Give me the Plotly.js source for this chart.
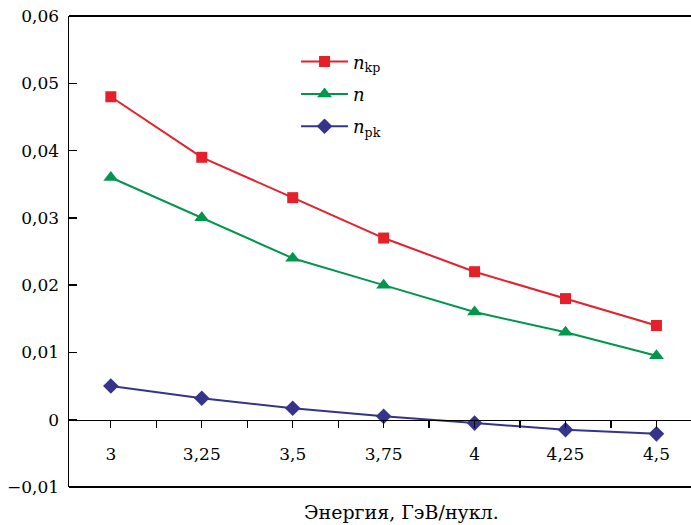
<!DOCTYPE html>
<html>
<head>
<meta charset="utf-8">
<script src="https://cdn.plot.ly/plotly-3.0.1.min.js"></script>
<style>html,body{margin:0;padding:0;background:#fff;}#chart{width:691px;height:525px;}</style>
</head>
<body>
<div id="chart"></div>
<script>
const categories = ["3", "3,25", "3,5", "3,75", "4", "4,25", "4,5"];
const nKp = [0.048, 0.039, 0.033, 0.027, 0.022, 0.018, 0.014];
const nMid = [0.036, 0.030, 0.024, 0.020, 0.016, 0.013, 0.0095];
const nPk = [0.005, 0.0032, 0.0017, 0.0005, -0.0005, -0.0015, -0.0021];
const seriesNames = ["<i>n</i><sub>kp</sub>", "<i>n</i>", "<i>n</i><sub>pk</sub>"];
const yTicks = [-0.01, 0, 0.01, 0.02, 0.03, 0.04, 0.05, 0.06];
const yTickText = ["\u22120,01", "0", "0,01", "0,02", "0,03", "0,04", "0,05", "0,06"];
const xTitle = "Энергия, ГэВ/нукл.";

const idx = categories.map((c, i) => i);
const minorVals = categories.map((c, i) => i + 0.5);

const FONT = "DejaVu Serif";
const traces = [
  {x: idx, y: nKp, name: seriesNames[0], mode: "lines+markers", legendgroup: "a",
   line: {color: "#E5202A", width: 2}, marker: {symbol: "square", size: 11, color: "#E5202A"}},
  {x: idx, y: nMid, name: seriesNames[1], mode: "lines+markers", legendgroup: "b",
   line: {color: "#00964B", width: 2}, marker: {symbol: "triangle-up", size: 13, color: "#00964B"}},
  {x: idx, y: nPk, name: seriesNames[2], mode: "lines+markers", legendgroup: "c",
   line: {color: "#35348C", width: 2}, marker: {symbol: "diamond", size: 12, color: "#35348C"}}
];

const layout = {
  width: 691, height: 525,
  margin: {l: 69, r: 0, t: 16, b: 38},
  paper_bgcolor: "#fff", plot_bgcolor: "#fff",
  font: {family: FONT, size: 18, color: "#000"},
  showlegend: true,
  legend: {x: 0.365, y: 0.942, xanchor: "left", yanchor: "top", bgcolor: "rgba(0,0,0,0)",
           font: {family: FONT, size: 18, color: "#000"}, traceorder: "grouped",
           tracegroupgap: 6, itemwidth: 47},
  xaxis: {
    range: [-0.46, 6.38], tickmode: "array", tickvals: idx, ticktext: categories,
    anchor: "free", position: 1/7, showline: true, linecolor: "#000", linewidth: 1.5,
    ticks: "outside", ticklen: 7, tickwidth: 1.3, tickcolor: "#000",
    minor: {tickmode: "array", tickvals: minorVals, ticks: "outside", ticklen: 7, tickwidth: 1.3, tickcolor: "#000", showgrid: false},
    showgrid: false, zeroline: false, ticklabelstandoff: 11,
    tickfont: {family: FONT, size: 17, color: "#000"}
  },
  yaxis: {
    range: [-0.01, 0.06], tickmode: "array", tickvals: yTicks, ticktext: yTickText,
    showline: true, linecolor: "#000", linewidth: 1.5,
    ticks: "inside", ticklen: 8, tickwidth: 1.3, tickcolor: "#000",
    showgrid: false, zeroline: false, ticklabelstandoff: 5,
    tickfont: {family: FONT, size: 17, color: "#000"}
  },
  shapes: [
    {type: "line", xref: "paper", yref: "paper", x0: 0, x1: 1, y0: 1, y1: 1, line: {color: "#000", width: 2}},
    {type: "line", xref: "paper", yref: "paper", x0: 0, x1: 1, y0: 0, y1: 0, line: {color: "#000", width: 2}}
  ],
  annotations: [
    {text: xTitle, xref: "paper", yref: "paper", x: 0.534, y: 0, xanchor: "center", yanchor: "top",
     yshift: -12, showarrow: false, font: {family: FONT, size: 19, color: "#000"}}
  ]
};

Plotly.newPlot("chart", traces, layout, {displayModeBar: false, staticPlot: true});
</script>
</body>
</html>
